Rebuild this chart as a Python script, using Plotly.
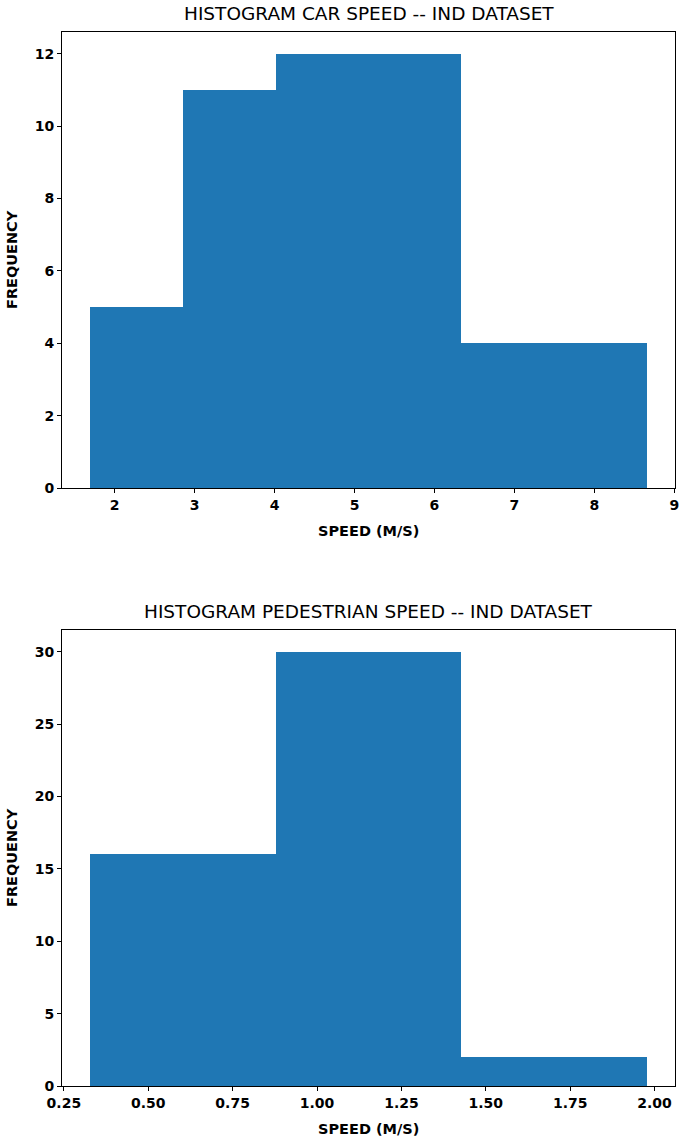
import plotly.graph_objects as go

# Car speed histogram (6 bins)
car_edges = [1.69, 2.852, 4.013, 5.175, 6.337, 7.498, 8.66]
car_counts = [5, 11, 12, 12, 4, 4]

# Pedestrian speed histogram (6 bins)
ped_edges = [0.327, 0.602, 0.877, 1.152, 1.427, 1.702, 1.978]
ped_counts = [16, 16, 30, 30, 2, 2]

car_ticks = [2, 3, 4, 5, 6, 7, 8, 9]
car_yticks = [0, 2, 4, 6, 8, 10, 12]
ped_ticks = [0.25, 0.50, 0.75, 1.00, 1.25, 1.50, 1.75, 2.00]
ped_yticks = [0, 5, 10, 15, 20, 25, 30]

titles = ["HISTOGRAM CAR SPEED -- IND DATASET", "HISTOGRAM PEDESTRIAN SPEED -- IND DATASET"]
xlabel = "SPEED (M/S)"
ylabel = "FREQUENCY"

W, H = 685, 1142
BLUE = "#1f77b4"


def centers_widths(edges):
    c = [(edges[i] + edges[i + 1]) / 2 for i in range(len(edges) - 1)]
    w = [edges[i + 1] - edges[i] for i in range(len(edges) - 1)]
    return c, w


fig = go.Figure()
cc, cw = centers_widths(car_edges)
pc, pw = centers_widths(ped_edges)
fig.add_trace(go.Bar(x=cc, y=car_counts, width=cw, marker=dict(color=BLUE, line=dict(width=0)),
                     xaxis="x", yaxis="y", showlegend=False))
fig.add_trace(go.Bar(x=pc, y=ped_counts, width=pw, marker=dict(color=BLUE, line=dict(width=0)),
                     xaxis="x2", yaxis="y2", showlegend=False))


def rng(lo, hi):
    m = (hi - lo) * 0.05
    return [lo - m, hi + m]


tickfont = dict(family="DejaVu Sans", size=14, color="black", weight="bold")
axcommon = dict(showline=True, linecolor="black", linewidth=1, mirror=True, ticks="outside",
                ticklen=4, tickcolor="black", tickwidth=1, showgrid=False, zeroline=False,
                tickfont=tickfont, automargin=False)

xd = [62 / W, 675 / W]
top_dom = [1 - 488 / H, 1 - 32 / H]
bot_dom = [1 - 1086 / H, 1 - 630 / H]

fig.update_layout(
    template="none",
    width=W, height=H, margin=dict(l=0, r=0, t=0, b=0, pad=0),
    plot_bgcolor="white", paper_bgcolor="white", bargap=0,
    xaxis=dict(domain=xd, anchor="y", range=rng(car_edges[0], car_edges[-1]),
               tickvals=car_ticks, ticktext=[str(t) for t in car_ticks], **axcommon),
    yaxis=dict(domain=top_dom, anchor="x", range=[0, max(car_counts) * 1.05],
               tickvals=car_yticks, **axcommon),
    xaxis2=dict(domain=xd, anchor="y2", range=rng(ped_edges[0], ped_edges[-1]),
                tickvals=ped_ticks, ticktext=[f"{t:.2f}" for t in ped_ticks], **axcommon),
    yaxis2=dict(domain=bot_dom, anchor="x2", range=[0, max(ped_counts) * 1.05],
                tickvals=ped_yticks, **axcommon),
)

lab = dict(family="DejaVu Sans", size=14.5, color="black", weight="bold")
tit = dict(family="DejaVu Sans", size=18.5, color="black")
xmid = (62 + 675) / 2 / W
ann = [
    dict(text=titles[0], x=xmid, y=1 - 14 / H, font=tit),
    dict(text=titles[1], x=xmid, y=1 - 611 / H, font=tit),
    dict(text=xlabel, x=xmid, y=1 - 531 / H, font=lab),
    dict(text=xlabel, x=xmid, y=1 - 1129 / H, font=lab),
    dict(text=ylabel, x=12 / W, y=1 - 260 / H, font=lab, textangle=-90),
    dict(text=ylabel, x=12 / W, y=1 - 858 / H, font=lab, textangle=-90),
]
for a in ann:
    fig.add_annotation(xref="paper", yref="paper", showarrow=False, xanchor="center",
                       yanchor="middle", **a)

fig.write_html("out.html", config={"displayModeBar": False},
               post_script="document.body.style.margin='0';document.body.style.overflow='hidden';")
